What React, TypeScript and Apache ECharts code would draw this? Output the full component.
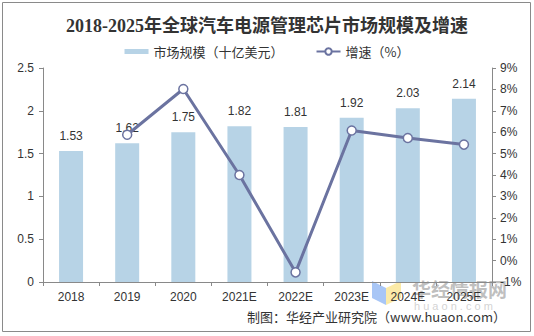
import React, { useEffect, useRef } from "react";
import * as echarts from "echarts";

const categories = ["2018", "2019", "2020", "2021E", "2022E", "2023E", "2024E", "2025E"];
const marketSize = [1.53, 1.62, 1.75, 1.82, 1.81, 1.92, 2.03, 2.14];
const growth = [null, 5.88, 8.02, 4.0, -0.55, 6.08, 5.73, 5.42];
const titleText = "2018-2025年全球汽车电源管理芯片市场规模及增速";
const sourceText = "制图：华经产业研究院（www.huaon.com）";

export default function App() {
  const ref = useRef<HTMLDivElement>(null);
  useEffect(() => {
    const chart = echarts.init(ref.current!, null, { renderer: "svg" });
    const axisColor = "#898989";
    const sans = "'Liberation Sans', 'Noto Sans CJK SC', sans-serif";
    chart.setOption({
      animation: false,
      backgroundColor: "#ffffff",
      title: {
        text: titleText,
        left: "center",
        top: 12,
        textStyle: {
          fontSize: 18,
          fontWeight: "bold",
          color: "#333333",
          fontFamily: "'Liberation Serif', 'Noto Sans CJK SC', serif",
        },
      },
      legend: {
        top: 40,
        left: "center",
        itemGap: 32,
        itemWidth: 24,
        itemHeight: 8,
        textStyle: { fontSize: 13, color: "#333", fontFamily: "'Noto Sans CJK SC', sans-serif" },
        data: [
          {
            name: "市场规模（十亿美元）",
            icon: "path://M0,0h0.01v0.01h-0.01z M0,1.5h24v5h-24z M23.99,7.99h0.01v0.01h-0.01z",
          },
          { name: "增速（%）" },
        ],
      },
      grid: { left: 43, right: 42, top: 68, bottom: 54 },
      xAxis: {
        type: "category",
        data: categories,
        axisLine: { lineStyle: { color: axisColor } },
        axisTick: { show: true, alignWithLabel: false, length: 4, lineStyle: { color: axisColor } },
        axisLabel: { color: "#333", fontSize: 12, fontFamily: sans, margin: 9 },
      },
      yAxis: [
        {
          type: "value",
          min: 0,
          max: 2.5,
          interval: 0.5,
          splitLine: { show: false },
          axisLine: { show: true, lineStyle: { color: axisColor } },
          axisTick: { show: true, length: 4, lineStyle: { color: axisColor } },
          axisLabel: { color: "#333", fontSize: 12, fontFamily: sans, margin: 9 },
        },
        {
          type: "value",
          min: -1,
          max: 9,
          interval: 1,
          position: "right",
          splitLine: { show: false },
          axisLine: { show: true, lineStyle: { color: axisColor } },
          axisTick: { show: true, length: 4, lineStyle: { color: axisColor } },
          axisLabel: { color: "#333", fontSize: 12, fontFamily: sans, margin: 8, formatter: "{value}%" },
        },
      ],
      series: [
        {
          name: "市场规模（十亿美元）",
          type: "bar",
          data: marketSize,
          barWidth: 24,
          itemStyle: { color: "#b7d3e6" },
          label: {
            show: true,
            position: "top",
            distance: 9,
            color: "#333",
            fontSize: 12,
            fontFamily: sans,
          },
          z: 1,
        },
        {
          name: "增速（%）",
          type: "line",
          yAxisIndex: 1,
          data: growth,
          symbol: "circle",
          symbolSize: 9,
          showAllSymbol: true,
          connectNulls: false,
          lineStyle: { color: "#6b73a0", width: 3 },
          itemStyle: { color: "#ffffff", borderColor: "#6b73a0", borderWidth: 1.5 },
          z: 2,
        },
      ],
      graphic: [
        {
          type: "rect",
          shape: { x: 2.5, y: 2.5, width: 528, height: 329 },
          style: { fill: "none", stroke: "#8a8a8a", lineWidth: 1 },
          silent: true,
        },
        {
          type: "polygon",
          shape: { points: [[372, 281], [386, 288], [386, 305], [372, 298]] },
          style: { fill: "rgba(110,160,240,0.6)" },
          silent: true,
        },
        {
          type: "polygon",
          shape: { points: [[386, 288], [401, 281], [401, 298], [386, 305]] },
          style: { fill: "rgba(250,225,130,0.7)" },
          silent: true,
        },
        {
          type: "text",
          left: 412,
          top: 279,
          style: {
            text: "华经情报网",
            fontSize: 19,
            fontWeight: "bold",
            fill: "rgba(170,170,170,0.75)",
            fontFamily: "'Noto Sans CJK SC', sans-serif",
          },
          silent: true,
        },
        {
          type: "text",
          left: 414,
          top: 300,
          style: {
            text: "h u a o n . c o m",
            fontSize: 11,
            fill: "rgba(200,200,200,0.8)",
            fontFamily: sans,
          },
          silent: true,
        },
        {
          type: "text",
          right: 28,
          top: 310,
          style: {
            text: sourceText,
            fontSize: 13,
            fill: "#333",
            fontFamily: "'Noto Sans CJK SC', sans-serif",
          },
          silent: true,
        },
      ],
    });
    return () => chart.dispose();
  }, []);
  return (
    <div
      ref={ref}
      style={{ position: "fixed", left: 0, top: 0, width: 534, height: 336 }}
    />
  );
}
